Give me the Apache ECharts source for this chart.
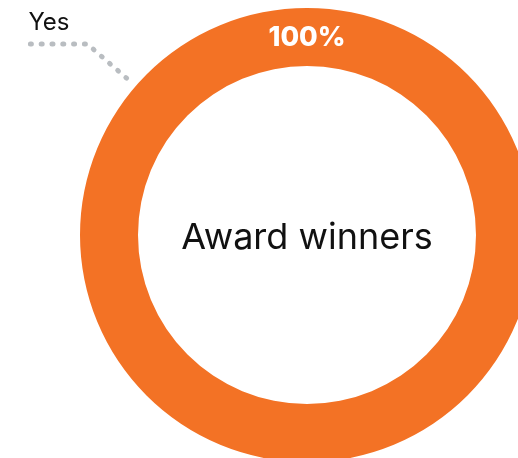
<!DOCTYPE html>
<html><head><meta charset="utf-8">
<script src="https://cdn.jsdelivr.net/npm/echarts@6/dist/echarts.min.js"></script>
<style>html,body{margin:0;padding:0;background:#fff}#c{width:518px;height:458px}</style>
</head><body><div id="c"></div>
<script>
const categories = ['Yes'];
const values = [100];
const centerTitle = 'Award winners';

const FONT = 'Inter, "Noto Sans", sans-serif';
const ORANGE = '#F37225';
const data = categories.map((n, i) => ({ name: n, value: values[i] }));
const chart = echarts.init(document.getElementById('c'), null, { renderer: 'canvas' });
chart.setOption({
  animation: false,
  series: [
    {
      type: 'pie', center: [307, 235], radius: [169, 227], startAngle: 270, silent: true,
      data: data,
      itemStyle: { color: ORANGE, borderWidth: 0 },
      label: { position: 'inside', formatter: '{d}%', color: '#fff', fontFamily: FONT, fontSize: 27, fontWeight: 800 },
      labelLine: { show: false },
      labelLayout: function () { return { dy: 4 }; }
    },
    {
      type: 'pie', center: [307, 235], radius: [169, 239], startAngle: 319, silent: true,
      data: data,
      itemStyle: { color: 'rgba(0,0,0,0)', borderWidth: 0 },
      label: { position: 'outside', formatter: '{b}', width: 60, color: '#111', fontFamily: FONT, fontSize: 24 },
      labelLine: { show: true, length: 52, length2: 65, lineStyle: { color: '#b9bdc1', width: 5, type: [1, 9.8], cap: 'round' } },
      labelLayout: function (p) {
        const pts = p.labelLinePoints;
        const end = pts[pts.length - 1];
        return { x: end[0] + 6, y: end[1] - 21, align: 'left', verticalAlign: 'middle', labelLinePoints: pts };
      }
    },
    {
      type: 'pie', name: centerTitle, center: [307, 235], radius: [0, 1], silent: true,
      data: data,
      itemStyle: { color: 'rgba(0,0,0,0)' },
      label: { position: 'center', formatter: '{a}', color: '#111', fontFamily: FONT, fontSize: 36 },
      labelLine: { show: false },
      labelLayout: function () { return { dy: 3 }; }
    }
  ]
});
</script></body></html>
